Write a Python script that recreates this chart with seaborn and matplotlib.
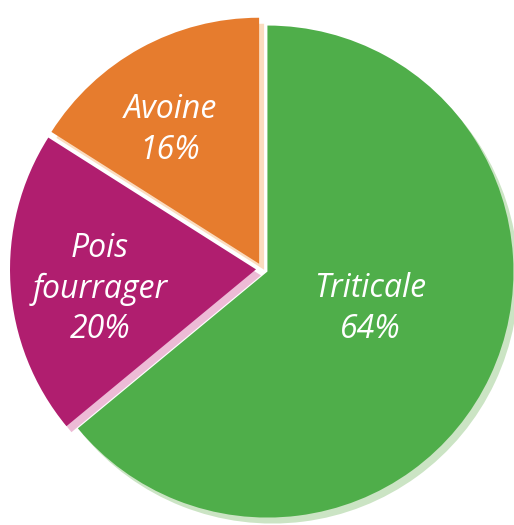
import matplotlib
matplotlib.use("Agg")
import matplotlib.pyplot as plt
import seaborn as sns

categories = ["Triticale", "Pois\nfourrager", "Avoine"]
values = [64, 20, 16]
colors = ["#4FAE4A", "#B01E6F", "#E67C2E"]
shadow_colors = ["#CBE4C4", "#EDBBD6", "#FBDCC0"]
label_pos = [(370, 309), (100, 289), (170, 130)]

sns.set_theme(style="white")
plt.rcParams['font.family'] = ['Open Sans', 'DejaVu Sans']

W, H = 514, 525
fig = plt.figure(figsize=(W / 100, H / 100), dpi=100)
ax = fig.add_axes([0, 0, 1, 1])

cx, cy, r = 262, H - 269, 246
explode = [6, 6, 6]

# shadow copy
ax.pie(values, colors=shadow_colors, startangle=90, counterclock=False,
       radius=r, center=(cx + 5, cy - 6), explode=explode,
       wedgeprops=dict(linewidth=0), frame=True)
# main wedges
ax.pie(values, colors=colors, startangle=90, counterclock=False,
       radius=r, center=(cx, cy), explode=explode,
       wedgeprops=dict(linewidth=0), frame=True)

ax.set_xlim(0, W)
ax.set_ylim(0, H)
ax.set_aspect('equal')
ax.axis('off')

for cat, val, (x, y) in zip(categories, values, label_pos):
    ax.text(x, H - y, f"{cat}\n{val}%", color="white", fontsize=23,
            fontstyle="italic", ha="center", va="center", linespacing=1.3)

fig.savefig("out.png", dpi=100, facecolor="white")
